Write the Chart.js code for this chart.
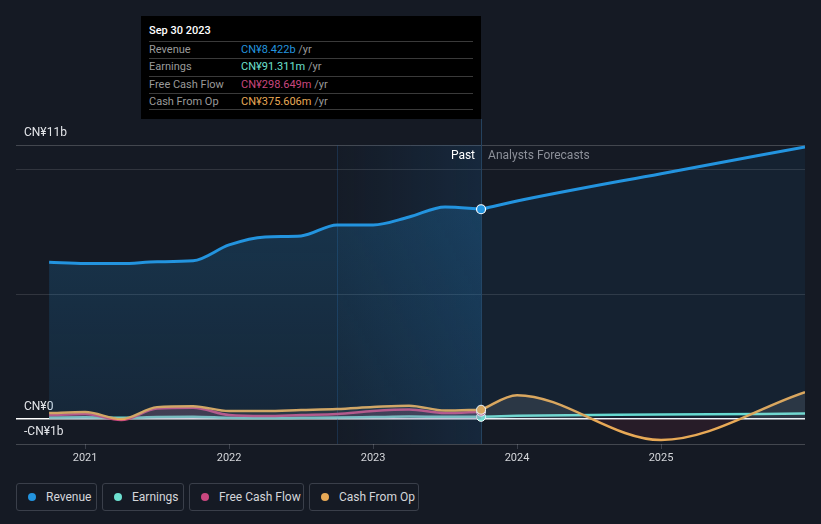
<!DOCTYPE html>
<html>
<head>
<meta charset="utf-8">
<script src="https://cdn.jsdelivr.net/npm/chart.js@4"></script>
<style>
  body { margin: 0; background: #151a24; font-family: Roboto, 'Open Sans', sans-serif; }
  #wrap { position: relative; width: 821px; height: 524px; overflow: hidden; }
  #chartBox { position: absolute; left: 0; top: 0; width: 821px; height: 475px; }
  #tip { position: absolute; left: 141px; top: 16px; width: 340px; height: 103px; background: #000; font-size: 11px; }
  #tip .title { position: absolute; left: 8px; top: 8px; color: #fff; font-weight: 500; }
  #tip .row { position: absolute; left: 8px; width: 324px; height: 17px; border-top: 1px solid #3a3a3a; line-height: 16px; }
  #tip .lab { position: absolute; left: 0; color: #9a9a9a; }
  #tip .val { position: absolute; left: 92px; }
  #tip .yr { color: #9a9a9a; }
  #tip .last { position: absolute; left: 8px; width: 324px; top: 93px; border-top: 1px solid #3a3a3a; }
  #legend { position: absolute; left: 16px; top: 483px; display: flex; gap: 5px; }
  .item { box-sizing: border-box; height: 28px; border: 1px solid #3a3f4a; border-radius: 3px; display: flex; align-items: center; padding-left: 11px; color: #d4d6da; font-size: 12px; }
  .dot { width: 8px; height: 8px; border-radius: 50%; margin-right: 10px; }
</style>
</head>
<body>
<div id="wrap">
  <div id="chartBox"><canvas id="chart"></canvas></div>
  <div id="tip"></div>
  <div id="legend"></div>
</div>
<script>
// values in CN¥ billions, dates as decimal years
const pastDates = [2020.75, 2021.0, 2021.25, 2021.5, 2021.75, 2022.0, 2022.25, 2022.5, 2022.75, 2023.0, 2023.25, 2023.5, 2023.75];
const forecastDates = [2023.75, 2024.0, 2025.0, 2026.0];

const revenuePast = [6.29, 6.24, 6.24, 6.31, 6.35, 6.99, 7.31, 7.35, 7.79, 7.79, 8.11, 8.51, 8.422];
const revenueForecast = [8.422, 8.75, 9.85, 10.92];
const earningsPast = [0.06, 0.07, 0.05, 0.08, 0.09, 0.05, 0.04, 0.05, 0.06, 0.08, 0.10, 0.09, 0.091];
const earningsForecast = [0.091, 0.13, 0.18, 0.22];
const fcfPast = [0.16, 0.2, -0.04, 0.42, 0.45, 0.16, 0.12, 0.16, 0.2, 0.32, 0.38, 0.24, 0.299];
const cfoPast = [0.24, 0.28, 0.0, 0.48, 0.52, 0.32, 0.32, 0.36, 0.4, 0.48, 0.54, 0.34, 0.376];
const cfoForecast = [0.376, 0.96, -0.84, 1.08];

const xTickYears = [2021, 2022, 2023, 2024, 2025];
const yGridValues = [-1, 0, 5, 10, 11];
const yLabelValues = [11, 0, -1];
const yLabelTexts = ['CN¥11b', 'CN¥0', '-CN¥1b'];

const seriesNames = ['Revenue', 'Earnings', 'Free Cash Flow', 'Cash From Op'];
const seriesColors = ['#2394df', '#6de0d0', '#c9477f', '#e8a956'];
const tipValues = ['CN¥8.422b', 'CN¥91.311m', 'CN¥298.649m', 'CN¥375.606m'];
const tipTitle = 'Sep 30 2023';
const pastStart = 2022.75, pastEnd = 2023.75;

const pts = (xs, ys) => xs.map((x, i) => ({ x: x, y: ys[i] }));
const lastIdx = pastDates.length - 1;
const markerRadius = ctx => ctx.dataIndex === lastIdx ? 4.5 : 0;

// tooltip box
const tip = document.getElementById('tip');
let html = '<div class="title">' + tipTitle + '</div>';
seriesNames.forEach((n, i) => {
  html += '<div class="row" style="top:' + (25 + i * 17.3) + 'px"><span class="lab">' + n +
    '</span><span class="val"><span style="color:' + seriesColors[i] + '">' + tipValues[i] +
    '</span> <span class="yr">/yr</span></span></div>';
});
html += '<div class="last"></div>';
tip.innerHTML = html;

// legend
const legendWidths = [81, 82, 115, 110];
document.getElementById('legend').innerHTML = seriesNames.map((n, i) =>
  '<div class="item" style="width:' + legendWidths[i] + 'px"><span class="dot" style="background:' + seriesColors[i] + '"></span>' + n + '</div>'
).join('');

const overlay = {
  id: 'overlay',
  beforeDatasetsDraw(chart) {
    const { ctx, chartArea, scales } = chart;
    const x0 = scales.x.getPixelForValue(pastStart);
    const x1 = scales.x.getPixelForValue(pastEnd);
    ctx.save();
    const g = ctx.createLinearGradient(x0, 0, x1, 0);
    g.addColorStop(0, 'rgba(30,110,180,0.02)');
    g.addColorStop(1, 'rgba(30,110,180,0.17)');
    ctx.fillStyle = g;
    ctx.fillRect(x0, chartArea.top, x1 - x0, chartArea.bottom - chartArea.top);
    ctx.strokeStyle = 'rgba(40,90,140,0.35)';
    ctx.lineWidth = 1;
    ctx.beginPath();
    ctx.moveTo(Math.round(x0) + 0.5, chartArea.top);
    ctx.lineTo(Math.round(x0) + 0.5, chartArea.bottom);
    ctx.stroke();
    ctx.strokeStyle = '#25425e';
    ctx.beginPath();
    ctx.moveTo(Math.round(x1) + 0.5, 119);
    ctx.lineTo(Math.round(x1) + 0.5, chartArea.bottom);
    ctx.stroke();
    ctx.font = '12px Roboto, sans-serif';
    ctx.textBaseline = 'middle';
    ctx.textAlign = 'right';
    ctx.fillStyle = '#ffffff';
    ctx.fillText('Past', x1 - 6, 156);
    ctx.textAlign = 'left';
    ctx.fillStyle = '#8c9099';
    ctx.fillText('Analysts Forecasts', x1 + 7, 156);
    ctx.fillStyle = '#e2e4e8';
    ctx.font = '12px Roboto, sans-serif';
    yLabelValues.forEach((v, i) => {
      ctx.fillText(yLabelTexts[i], chartArea.left + 8, scales.y.getPixelForValue(v) - 12);
    });
    ctx.restore();
  }
};

const ctx = document.getElementById('chart').getContext('2d');
const revGrad = ctx.createLinearGradient(0, 200, 0, 444);
revGrad.addColorStop(0, 'rgba(35,148,223,0.22)');
revGrad.addColorStop(1, 'rgba(35,148,223,0.10)');

new Chart(ctx, {
  type: 'line',
  data: {
    datasets: [
      {
        data: pts(pastDates, cfoPast), borderColor: seriesColors[3], borderWidth: 2.5,
        fill: { target: 'origin', above: 'rgba(180,170,160,0.12)', below: 'rgba(200,60,90,0.12)' },
        pointRadius: markerRadius, pointBackgroundColor: seriesColors[3], pointBorderColor: '#fff', pointBorderWidth: 1, order: 1
      },
      {
        data: pts(forecastDates, cfoForecast), borderColor: seriesColors[3], borderWidth: 2.5,
        fill: { target: 'origin', above: 'rgba(200,200,200,0.13)', below: 'rgba(120,40,60,0.18)' },
        pointRadius: 0, order: 1
      },
      {
        data: pts(pastDates, fcfPast), borderColor: seriesColors[2], borderWidth: 2.5,
        fill: { target: 'origin', above: 'rgba(201,71,127,0.18)', below: 'rgba(201,71,127,0.18)' },
        pointRadius: markerRadius, pointBackgroundColor: seriesColors[2], pointBorderColor: '#fff', pointBorderWidth: 1, order: 2
      },
      {
        data: pts(pastDates, earningsPast), borderColor: seriesColors[1], borderWidth: 2.5, fill: false,
        pointRadius: markerRadius, pointBackgroundColor: seriesColors[1], pointBorderColor: '#fff', pointBorderWidth: 1, order: 3
      },
      {
        data: pts(forecastDates, earningsForecast), borderColor: seriesColors[1], borderWidth: 2.5, fill: false,
        pointRadius: 0, order: 3
      },
      {
        data: pts(pastDates, revenuePast), borderColor: seriesColors[0], borderWidth: 3,
        fill: { target: 'origin', above: revGrad },
        pointRadius: markerRadius, pointBackgroundColor: seriesColors[0], pointBorderColor: '#fff', pointBorderWidth: 1.2, order: 0
      },
      {
        data: pts(forecastDates, revenueForecast), borderColor: seriesColors[0], borderWidth: 3,
        fill: { target: 'origin', above: 'rgba(35,148,223,0.07)' },
        pointRadius: 0, order: 0
      }
    ]
  },
  options: {
    responsive: true,
    maintainAspectRatio: false,
    animation: false,
    layout: { padding: { left: 16, right: 16, top: 145, bottom: 0 } },
    plugins: { legend: { display: false }, tooltip: { enabled: false } },
    elements: { line: { cubicInterpolationMode: 'monotone' } },
    scales: {
      x: {
        type: 'linear', min: 2020.52, max: 2026.0,
        afterBuildTicks: s => { s.ticks = xTickYears.map(v => ({ value: v })); },
        afterFit: s => { s.height = 31; },
        grid: { drawOnChartArea: false, tickLength: 5, color: '#3a3f4a' },
        border: { display: false },
        ticks: { color: '#d4d6da', font: { size: 11, family: 'Roboto' }, padding: 3, maxRotation: 0, callback: v => String(v) }
      },
      y: {
        min: -1, max: 11,
        afterBuildTicks: s => { s.ticks = yGridValues.map(v => ({ value: v })); },
        afterFit: s => { s.width = 0; },
        grid: {
          drawTicks: false, tickLength: 0,
          color: c => c.tick.value === 0 ? '#ffffff' : (c.tick.value === 5 || c.tick.value === 10 ? 'rgba(255,255,255,0.12)' : 'rgba(255,255,255,0.2)'),
          lineWidth: c => c.tick.value === 0 ? 1.5 : 1
        },
        border: { display: false },
        ticks: { display: false }
      }
    }
  },
  plugins: [overlay]
});
</script>
</body>
</html>
